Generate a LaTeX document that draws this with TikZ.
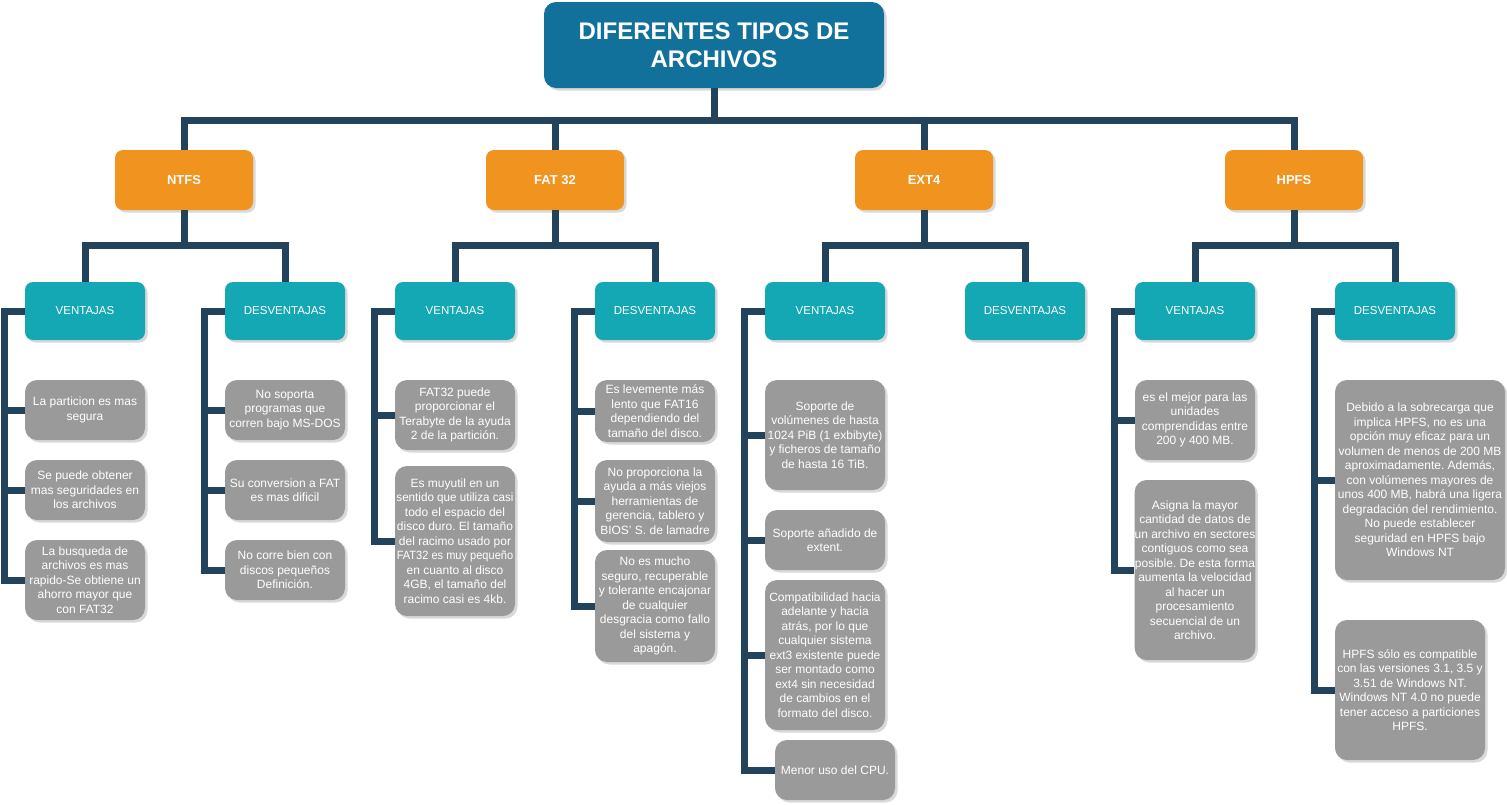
\documentclass[tikz,border=0pt]{standalone}
\usepackage{fontspec}
\setmainfont{Liberation Sans}
\usetikzlibrary{shadows, positioning}
\frenchspacing

\definecolor{titleblue}{HTML}{12719A}
\definecolor{fsorange}{HTML}{F1931F}
\definecolor{sideteal}{HTML}{14A8B4}
\definecolor{infogray}{HTML}{9A9A9A}
\definecolor{linkblue}{HTML}{23435C}

\begin{document}
\begin{tikzpicture}[x=1pt,y=-1pt,
 link/.style={draw=linkblue,line width=7pt},
 box/.style={rectangle,text=white,align=center,inner xsep=0pt,inner ysep=1pt,
   drop shadow={opacity=0.3,shadow xshift=2.5pt,shadow yshift=-2.5pt}},
 title node/.style={box,fill=titleblue,rounded corners=12pt,minimum width=340,minimum height=86,
   font=\fontsize{24}{28}\selectfont\bfseries},
 fs node/.style={box,fill=fsorange,rounded corners=8pt,minimum width=138,minimum height=60,
   font=\fontsize{13}{15}\selectfont\bfseries},
 side node/.style={box,fill=sideteal,rounded corners=8pt,minimum width=120,minimum height=58,
   font=\fontsize{11.5}{14}\selectfont},
 info node/.style={box,fill=infogray,rounded corners=12pt,minimum width=120,
   font=\fontsize{12}{14.5}\selectfont}]

  \useasboundingbox (0,0) rectangle (1507,804);

  \node[title node] (title) at (714,45) {DIFERENTES TIPOS DE\\ARCHIVOS};

  \node[fs node] (ntfs) at (184,180) {NTFS};
  \node[fs node] (fat)  at (555,180) {FAT 32};
  \node[fs node] (ext)  at (924,180) {EXT4};
  \node[fs node] (hpfs) at (1294,180) {HPFS};

  \node[side node] (ntfsv) at (85,311)   {VENTAJAS};
  \node[side node] (ntfsd) at (285,311)  {DESVENTAJAS};
  \node[side node] (fatv)  at (455,311)  {VENTAJAS};
  \node[side node] (fatd)  at (655,311)  {DESVENTAJAS};
  \node[side node] (extv)  at (825,311)  {VENTAJAS};
  \node[side node] (extd)  at (1025,311) {DESVENTAJAS};
  \node[side node] (hpfsv) at (1195,311) {VENTAJAS};
  \node[side node] (hpfsd) at (1395,311) {DESVENTAJAS};

  % NTFS
  \node[info node,minimum height=60] (nv1) at (85,410) {La particion es mas\\segura};
  \node[info node,minimum height=60] (nv2) at (85,490) {Se puede obtener\\mas seguridades en\\los archivos};
  \node[info node,minimum height=80] (nv3) at (85,580) {La busqueda de\\archivos es mas\\rapido-Se obtiene un\\ahorro mayor que\\con FAT32};
  \node[info node,minimum height=60] (nd1) at (285,410) {No soporta\\programas que\\corren bajo MS-DOS};
  \node[info node,minimum height=60] (nd2) at (285,490) {Su conversion a FAT\\es mas dificil};
  \node[info node,minimum height=60] (nd3) at (285,570) {No corre bien con\\discos pequeños\\Definición.};

  % FAT 32
  \node[info node,minimum height=70] (fv1) at (455,415) {FAT32 puede\\proporcionar el\\Terabyte de la ayuda\\2 de la partición.};
  \node[info node,minimum height=150] (fv2) at (455,541) {Es muyutil en un\\\scalebox{0.97}[1]{sentido que utiliza casi}\\todo el espacio del\\disco duro. El tamaño\\del racimo usado por\\\scalebox{0.92}[1]{FAT32 es muy pequeño}\\en cuanto al disco\\4GB, el tamaño del\\racimo casi es 4kb.};
  \node[info node,minimum height=62] (fd1) at (655,411) {Es levemente más\\lento que FAT16\\dependiendo del\\tamaño del disco.};
  \node[info node,minimum height=82] (fd2) at (655,501) {No proporciona la\\ayuda a más viejos\\herramientas de\\gerencia, tablero y\\BIOS' S. de lamadre};
  \node[info node,minimum height=112] (fd3) at (655,606) {No es mucho\\seguro, recuperable\\y tolerante encajonar\\de cualquier\\desgracia como fallo\\del sistema y\\apagón.};

  % EXT4
  \node[info node,minimum height=110] (ev1) at (825,435) {Soporte de\\volúmenes de hasta\\1024 PiB (1 exbibyte)\\y ficheros de tamaño\\de hasta 16 TiB.};
  \node[info node,minimum height=60] (ev2) at (825,540) {Soporte añadido de\\extent.};
  \node[info node,minimum height=150] (ev3) at (825,655) {Compatibilidad hacia\\adelante y hacia\\atrás, por lo que\\cualquier sistema\\ext3 existente puede\\ser montado como\\ext4 sin necesidad\\de cambios en el\\formato del disco.};
  \node[info node,minimum height=60] (ev4) at (835,770) {Menor uso del CPU.};

  % HPFS
  \node[info node,minimum height=80] (hv1) at (1195,420) {es el mejor para las\\unidades\\comprendidas entre\\200 y 400 MB.};
  \node[info node,minimum height=180] (hv2) at (1195,570) {Asigna la mayor\\cantidad de datos de\\un archivo en sectores\\contiguos como sea\\posible. De esta forma\\aumenta la velocidad\\al hacer un\\procesamiento\\secuencial de un\\archivo.};
  \node[info node,minimum width=170,minimum height=200] (hd1) at (1420,480) {Debido a la sobrecarga que\\implica HPFS, no es una\\opción muy eficaz para un\\volumen de menos de 200 MB\\aproximadamente. Además,\\con volúmenes mayores de\\unos 400 MB, habrá una ligera\\degradación del rendimiento.\\No puede establecer\\seguridad en HPFS bajo\\Windows NT};
  \node[info node,minimum width=150,minimum height=140] (hd2) at (1410,690) {HPFS sólo es compatible\\con las versiones 3.1, 3.5 y\\3.51 de Windows NT.\\Windows NT 4.0 no puede\\tener acceso a particiones\\HPFS.};

  \foreach \t in {ntfs, fat, ext, hpfs} {
   \path[link] (title.south) -- ++(0,32) -| (\t.north);}

  \foreach \s/\t in {ntfs/ntfsv, ntfs/ntfsd, fat/fatv, fat/fatd, ext/extv, ext/extd, hpfs/hpfsv, hpfs/hpfsd} {
   \path[link] (\s.south) -- ++(0,35) -| (\t.north);}

  \foreach \s/\t in {ntfsv/nv1, ntfsv/nv2, ntfsv/nv3, ntfsd/nd1, ntfsd/nd2, ntfsd/nd3,
    fatv/fv1, fatv/fv2, fatd/fd1, fatd/fd2, fatd/fd3,
    extv/ev1, extv/ev2, extv/ev3, extv/ev4,
    hpfsv/hv1, hpfsv/hv2, hpfsd/hd1, hpfsd/hd2} {
   \path[link] (\s.west) -- ++(-20,0) |- (\t.west);}

\end{tikzpicture}
\end{document}
